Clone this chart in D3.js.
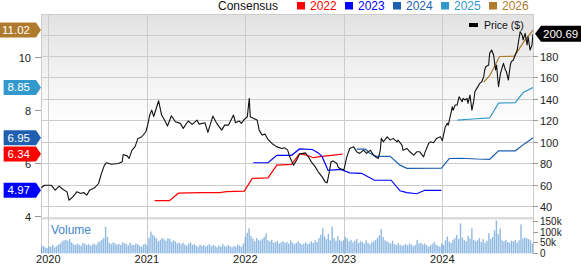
<!DOCTYPE html>
<html><head><meta charset="utf-8">
<script src="https://cdn.jsdelivr.net/npm/d3@7"></script>
<style>body{margin:0;background:#fff;overflow:hidden}text{font-family:"Liberation Sans",Arial,sans-serif}</style>
</head><body><svg id="c" width="581" height="264"></svg>
<script>
// ---------- data ----------
const yearLabels = ["2020","2021","2022","2023","2024"];
const yearValues = [2020,2021,2022,2023,2024];
const priceTicks = [40,60,80,100,120,140,160,180];
const priceGrid = [40,60,80,100,120,140,160,180,200];
const epsTicks = [4,6,8,10];
const volTicks = [0,50,100,150];
const volTickLabels = ["0","50k","100k","150k"];
const seriesNames = ["2022","2023","2024","2025","2026"];
const seriesColors = ["#ff0000","#0000ff","#1f5fb0","#3399cc","#b07a2e"];
const consensusLast = [6.34,4.97,6.95,8.85,11.02];
const lastPrice = 200.69;

// price: [decimal year, $]
const price = [[2019.93,57],[2019.96,59.4],[2020.03,59.4],[2020.07,54.8],[2020.11,58.5],[2020.15,55.4],[2020.19,53.2],[2020.21,45.4],[2020.25,48.5],[2020.29,53.2],[2020.33,51.7],[2020.36,52.6],[2020.39,50.1],[2020.42,54.8],[2020.47,57],[2020.51,61],[2020.54,70.4],[2020.57,78.1],[2020.59,80.3],[2020.64,79],[2020.71,79.7],[2020.75,81.2],[2020.76,88.1],[2020.80,86.8],[2020.82,84.4],[2020.85,92.1],[2020.88,95.2],[2020.91,103.1],[2020.95,104.6],[2020.99,109.3],[2021.01,116],[2021.03,125],[2021.05,129.5],[2021.07,123.5],[2021.12,138.2],[2021.15,124.9],[2021.18,120.2],[2021.21,114.6],[2021.25,124.2],[2021.29,118.6],[2021.34,117.1],[2021.37,112.4],[2021.42,119.3],[2021.46,116.2],[2021.51,120.2],[2021.53,116.4],[2021.59,117.7],[2021.62,108.7],[2021.67,123.9],[2021.71,117.1],[2021.76,110.8],[2021.79,115.5],[2021.83,115.5],[2021.88,124.9],[2021.90,117.7],[2021.94,119.3],[2021.96,117.1],[2021.99,120.8],[2022.02,123.3],[2022.04,140.5],[2022.05,123.3],[2022.08,121.8],[2022.12,120.2],[2022.14,110.8],[2022.17,106.2],[2022.20,107.1],[2022.23,102.1],[2022.27,98.4],[2022.32,95.2],[2022.37,93.7],[2022.40,94.3],[2022.43,92.1],[2022.45,85.9],[2022.49,78.1],[2022.52,82.8],[2022.55,88.4],[2022.61,89.6],[2022.64,85.9],[2022.67,81.2],[2022.71,76.5],[2022.74,71.9],[2022.78,67.2],[2022.81,62.5],[2022.83,61.6],[2022.85,70.4],[2022.87,81.2],[2022.89,82.1],[2022.93,79.7],[2022.94,76.5],[2022.96,75],[2023.00,73.5],[2023.03,85.9],[2023.06,93.7],[2023.10,95.2],[2023.13,90.6],[2023.16,89.1],[2023.20,92.1],[2023.23,89.1],[2023.27,92.1],[2023.30,87.5],[2023.33,85.3],[2023.35,84.4],[2023.37,92.1],[2023.38,103.1],[2023.40,99.9],[2023.44,104.6],[2023.47,101.5],[2023.50,103.1],[2023.54,99.9],[2023.55,101.5],[2023.59,96.8],[2023.60,92.1],[2023.64,93.7],[2023.67,90.6],[2023.71,87.5],[2023.74,90.6],[2023.77,90.6],[2023.81,85.9],[2023.82,89.1],[2023.86,98.4],[2023.88,99.9],[2023.91,99],[2023.94,103.1],[2023.98,104.6],[2024.00,100.9],[2024.03,114],[2024.05,117.1],[2024.06,115.5],[2024.09,127.9],[2024.10,132.6],[2024.11,129.5],[2024.13,134.2],[2024.15,134.2],[2024.17,142],[2024.20,137.3],[2024.21,140.5],[2024.23,138.9],[2024.25,140.5],[2024.26,135.8],[2024.28,143.6],[2024.30,129.5],[2024.32,138.9],[2024.33,146.6],[2024.35,149.8],[2024.38,154.5],[2024.40,156],[2024.42,160.7],[2024.43,166.9],[2024.44,170],[2024.47,171.6],[2024.48,182.5],[2024.50,185.6],[2024.52,180.9],[2024.54,166.9],[2024.55,171.6],[2024.57,151.3],[2024.59,163.8],[2024.60,166.9],[2024.62,173.2],[2024.64,166.9],[2024.65,165.3],[2024.67,157.6],[2024.69,171.6],[2024.70,174.7],[2024.72,176.3],[2024.74,180.9],[2024.76,185.6],[2024.77,191.9],[2024.79,202.7],[2024.81,199.6],[2024.82,195],[2024.84,201.2],[2024.86,190.3],[2024.87,198],[2024.89,185.6],[2024.91,190.3],[2024.92,200.69]];

// consensus EPS estimates: [decimal year, EPS]
const eps2022 = [[2021.08,4.58],[2021.23,4.58],[2021.32,4.86],[2021.54,4.88],[2021.74,4.88],[2021.81,4.92],[2021.99,4.94],[2022.07,5.42],[2022.23,5.44],[2022.32,5.92],[2022.47,5.95],[2022.55,6.35],[2022.62,6.30],[2022.69,6.20],[2022.76,6.24],[2022.83,6.27],[2022.90,6.30],[2022.99,6.34]];
const eps2023 = [[2022.08,6.01],[2022.23,6.01],[2022.32,6.29],[2022.47,6.29],[2022.55,6.53],[2022.68,6.51],[2022.74,6.38],[2022.78,6.24],[2022.84,5.72],[2022.97,5.76],[2023.06,5.63],[2023.18,5.61],[2023.31,5.35],[2023.48,5.35],[2023.57,4.95],[2023.64,4.88],[2023.74,4.84],[2023.82,4.97],[2023.99,4.97]];
const eps2024 = [[2023.13,6.52],[2023.22,6.52],[2023.26,6.38],[2023.33,6.25],[2023.47,6.25],[2023.57,5.92],[2023.64,5.80],[2023.99,5.81],[2024.07,6.17],[2024.19,6.18],[2024.35,6.15],[2024.48,6.14],[2024.57,6.46],[2024.74,6.46],[2024.84,6.74],[2024.92,6.95]];
const eps2025 = [[2024.15,7.62],[2024.31,7.66],[2024.48,7.70],[2024.57,8.26],[2024.74,8.28],[2024.82,8.66],[2024.92,8.85]];
const eps2026 = [[2024.42,9.05],[2024.48,9.30],[2024.53,9.65],[2024.58,10.02],[2024.73,10.03],[2024.77,10.25],[2024.83,10.60],[2024.91,10.97],[2024.92,11.02]];

// weekly volume (thousands), first week ~ 2019.93
const volumeStart = 2019.93;
const volumeK = [30,35,28,25,32,30,38,27,33,40,
45,55,60,62,58,66,50,42,38,45,
40,35,48,44,38,42,36,40,45,38,
50,55,62,70,123,75,48,42,50,45,
40,44,38,50,46,42,36,48,40,38,
45,42,35,30,40,44,38,72,100,85,
78,68,55,62,70,65,58,70,66,52,
60,55,45,50,42,48,40,35,45,50,
38,42,36,30,40,34,38,30,35,42,
32,38,34,28,36,30,42,34,30,38,
32,28,35,30,40,36,30,45,75,95,
115,80,68,55,70,62,58,66,75,92,
60,55,62,48,52,58,45,50,56,48,
52,45,60,50,42,48,55,46,40,44,
50,42,46,55,48,60,52,70,85,115,
78,65,90,60,123,70,58,80,62,55,
60,75,68,55,62,50,58,66,48,55,
52,45,60,48,42,50,55,62,70,82,
110,75,60,55,50,45,58,42,38,46,
40,35,38,42,36,45,40,32,38,62,
45,48,40,45,38,30,36,42,52,40,
35,30,45,38,60,77,55,48,62,70,
85,65,138,72,60,55,80,68,115,62,
55,60,70,52,65,48,58,92,66,75,
105,150,88,115,60,55,62,52,48,58,
55,62,50,60,133,68,72,70,65,60,45];

// ---------- layout ----------
const svg = d3.select("#c");
const L = 41, R = 533, T = 14, B = 217, VT = 219.5, VB = 254;
const x = d3.scaleLinear().domain([2019.926, 2024.92]).range([L, R]);
const yP = d3.scaleLinear().domain([40, 180]).range([206, 56]);
const yE = d3.scaleLinear().domain([4, 10]).range([216, 57]);
const yV = d3.scaleLinear().domain([0, 150]).range([253.3, 220.7]);

const defs = svg.append("defs");
const g = defs.append("linearGradient").attr("id","bg").attr("x1",0).attr("y1",0).attr("x2",0).attr("y2",1);
g.append("stop").attr("offset","0").attr("stop-color","#e2e2e2");
g.append("stop").attr("offset","0.55").attr("stop-color","#ffffff");
g.append("stop").attr("offset","1").attr("stop-color","#ffffff");
defs.append("clipPath").attr("id","clipM").append("rect").attr("x",L).attr("y",T).attr("width",R-L).attr("height",B-T);
defs.append("clipPath").attr("id","clipV").append("rect").attr("x",L).attr("y",VT).attr("width",R-L).attr("height",VB-VT);

svg.append("rect").attr("x",L).attr("y",T).attr("width",R-L).attr("height",B-T).attr("fill","url(#bg)");
svg.append("rect").attr("x",L).attr("y",B).attr("width",R-L).attr("height",VT-B).attr("fill","#dcdcdc");

const gridC = "#cccccc";
svg.append("g").selectAll("line").data(priceGrid).join("line")
  .attr("x1",L).attr("x2",R).attr("y1",d=>Math.round(yP(d))+0.5).attr("y2",d=>Math.round(yP(d))+0.5)
  .attr("stroke",gridC).attr("stroke-width",1);
svg.append("g").selectAll("line").data(yearValues).join("line")
  .attr("x1",d=>Math.round(x(d))+0.5).attr("x2",d=>Math.round(x(d))+0.5).attr("y1",T).attr("y2",VB)
  .attr("stroke",gridC);
svg.append("line").attr("x1",L+0.5).attr("x2",L+0.5).attr("y1",T).attr("y2",VB).attr("stroke",gridC);
svg.append("line").attr("x1",R+0.5).attr("x2",R+0.5).attr("y1",T).attr("y2",VB).attr("stroke",gridC);
svg.append("line").attr("x1",L).attr("x2",R+1).attr("y1",T+0.5).attr("y2",T+0.5).attr("stroke",gridC);

// volume bars
const wk = 1/52.18;
svg.append("g").attr("clip-path","url(#clipV)").selectAll("rect").data(volumeK).join("rect")
  .attr("x",(d,i)=>x(volumeStart+i*wk)-0.7).attr("width",1.4)
  .attr("y",d=>yV(d)).attr("height",d=>yV(0)-yV(d))
  .attr("fill","#6aa2d8").attr("fill-opacity",0.75);
svg.append("text").attr("x",51).attr("y",233.5).attr("font-size",12).attr("fill","#3f86c8").text("Volume");

// consensus lines
const lineE = d3.line().x(d=>x(d[0])).y(d=>yE(d[1]));
const epsSeries = [eps2022,eps2023,eps2024,eps2025,eps2026];
const gm = svg.append("g").attr("clip-path","url(#clipM)");
epsSeries.forEach((s,i)=>{
  gm.append("path").attr("d",lineE(s)).attr("fill","none").attr("stroke",seriesColors[i]).attr("stroke-width",1.2);
});
const lineP = d3.line().x(d=>x(d[0])).y(d=>yP(d[1]));
gm.append("path").attr("d",lineP(price)).attr("fill","none").attr("stroke","#111").attr("stroke-width",1.1).attr("stroke-linejoin","round");

// right price axis
const ax = svg.append("g").attr("font-size",11).attr("fill","#222");
priceTicks.forEach(v=>{
  const yy = Math.round(yP(v))+0.5;
  ax.append("line").attr("x1",R).attr("x2",R+5).attr("y1",yy).attr("y2",yy).attr("stroke","#999");
  ax.append("text").attr("x",540).attr("y",yy+4).text(v);
});
// volume axis
volTicks.forEach((v,i)=>{
  const yy = Math.round(yV(v))+0.5;
  ax.append("line").attr("x1",R).attr("x2",R+5).attr("y1",yy).attr("y2",yy).attr("stroke","#999");
  ax.append("text").attr("x",540).attr("y",yy+3.5).attr("font-size",10).text(volTickLabels[i]);
});
// left EPS axis
epsTicks.forEach(v=>{
  const yy = Math.round(yE(v))+0.5;
  ax.append("line").attr("x1",35).attr("x2",L).attr("y1",yy).attr("y2",yy).attr("stroke","#999");
  ax.append("text").attr("x",31).attr("y",yy+4).attr("text-anchor","end").text(v);
});
yearValues.forEach((v,i)=>{
  ax.append("text").attr("x",x(v)).attr("y",263).attr("text-anchor","middle").text(yearLabels[i]);
});

// left badges
const order = [4,3,2,0,1];
order.forEach(i=>{
  const yy = yE(consensusLast[i]);
  const t = svg.append("text").attr("x",30).attr("y",yy+4).attr("font-size",11.5).attr("fill","#fff").attr("text-anchor","end").text(consensusLast[i].toFixed(2));
  const w = t.node().getComputedTextLength();
  const x0 = Math.max(0, 30 - w - 4), h = 7.5;
  svg.insert("path", () => t.node())
    .attr("d",`M${x0},${yy-h}L36,${yy-h}L41,${yy}L36,${yy+h}L${x0},${yy+h}Z`).attr("fill",seriesColors[i]);
});
// price badge
{
  const yy = yP(lastPrice), h = 8;
  svg.append("path").attr("d",`M535,${yy}L541,${yy-h}L581,${yy-h}L581,${yy+h}L541,${yy+h}Z`).attr("fill","#000");
  svg.append("text").attr("x",543).attr("y",yy+4).attr("font-size",11.5).attr("fill","#fff").text(lastPrice.toFixed(2));
}

// legend
const lg = svg.append("g").attr("font-size",12);
lg.append("text").attr("x",218).attr("y",9.5).attr("fill","#111").text("Consensus");
seriesNames.forEach((n,i)=>{
  const sx = 297 + 48*i;
  lg.append("rect").attr("x",sx).attr("y",2).attr("width",8).attr("height",7.5).attr("fill",seriesColors[i]);
  lg.append("text").attr("x",sx+13).attr("y",9.5).attr("fill",seriesColors[i]).text(n);
});
svg.append("rect").attr("x",469).attr("y",23).attr("width",9).attr("height",4).attr("fill","#000");
svg.append("text").attr("x",484).attr("y",29).attr("font-size",10.5).attr("fill","#111").text("Price ($)");
</script></body></html>
